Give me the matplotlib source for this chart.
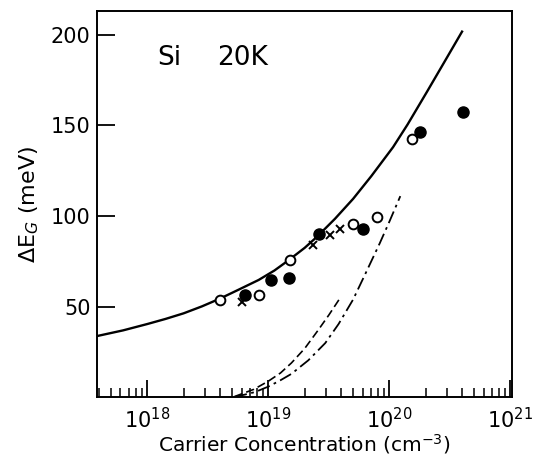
import numpy as np
import matplotlib
matplotlib.use("Agg")
import matplotlib.pyplot as plt
from matplotlib.ticker import LogLocator, FixedLocator, NullFormatter

# solid curve (log10 N, meV)
solid_logN = [17.587, 17.8, 18.0, 18.15, 18.30, 18.45, 18.60, 18.75, 18.92, 19.05, 19.17,
              19.30, 19.40, 19.55, 19.70, 19.85, 20.03, 20.15, 20.31, 20.45, 20.60]
solid_meV = [33.9, 37.0, 40.5, 43.3, 46.4, 50.2, 54.5, 59.3, 64.8, 70.0, 75.8,
             82.5, 88.5, 98.5, 109.5, 122.0, 138.0, 150.5, 168.5, 184.5, 201.7]

# dashed curve
dash_logN = [18.72, 18.80, 18.88, 19.0, 19.10, 19.19, 19.30, 19.41, 19.50, 19.60]
dash_meV = [0.5, 2.5, 4.5, 9.0, 13.5, 19.0, 27.0, 37.0, 45.5, 55.6]

# dash-dot curve
dashdot_logN = [18.72, 18.80, 18.89, 19.0, 19.10, 19.19, 19.33, 19.47, 19.58, 19.70,
                19.80, 19.92, 20.0, 20.09]
dashdot_meV = [0.3, 1.5, 3.0, 6.0, 9.5, 13.0, 20.5, 30.0, 40.5, 54.0,
               68.0, 85.0, 97.0, 111.0]

# measured points
open_logN = [18.60, 18.92, 19.18, 19.70, 19.90, 20.19]
open_meV = [53.7, 56.5, 75.8, 95.6, 99.7, 142.3]
filled_logN = [18.81, 19.02, 19.17, 19.42, 19.78, 20.25, 20.61]
filled_meV = [56.5, 64.8, 65.7, 90.0, 92.9, 146.2, 157.2]
cross_logN = [18.78, 19.37, 19.51, 19.59]
cross_meV = [52.8, 84.1, 89.6, 92.9]

yticks = [50, 100, 150, 200]

plt.rcParams['font.family'] = 'DejaVu Sans'

fig = plt.figure(figsize=(5.33, 4.63), dpi=100)
ax = fig.add_axes([0.1826, 0.1415, 0.9600 - 0.1826, 0.976 - 0.1415])

def lin(v):
    return 10 ** np.array(v)

ax.plot(lin(solid_logN), solid_meV, color='black', lw=1.7, zorder=2)
ax.plot(lin(dash_logN), dash_meV, color='black', lw=1.2, ls=(0, (5, 2.5)), zorder=2)
ax.plot(lin(dashdot_logN), dashdot_meV, color='black', lw=1.3, ls=(0, (7, 2.5, 1.5, 2.5)), zorder=2)

ax.plot(lin(open_logN), open_meV, 'o', ms=7, mfc='white', mec='black', mew=1.4, ls='none', zorder=4)
ax.plot(lin(filled_logN), filled_meV, 'o', ms=8, color='black', ls='none', zorder=5)
ax.plot(lin(cross_logN), cross_meV, 'x', ms=6, color='black', mew=1.4, ls='none', zorder=3)

ax.set_xscale('log')
ax.set_xlim(10 ** 17.587, 10 ** 21.01)
ax.set_ylim(0, 213)

ax.xaxis.set_major_locator(LogLocator(base=10, numticks=10))
ax.xaxis.set_minor_locator(LogLocator(base=10, subs=np.arange(2, 10), numticks=20))
ax.xaxis.set_minor_formatter(NullFormatter())
ax.yaxis.set_major_locator(FixedLocator(yticks))
ax.yaxis.set_minor_locator(FixedLocator([]))

ax.tick_params(axis='x', which='major', direction='in', length=12, width=1.3, labelsize=15, pad=7)
ax.tick_params(axis='x', which='minor', direction='in', length=6.5, width=1.1)
ax.tick_params(axis='y', which='major', direction='in', length=13, width=1.3, labelsize=15, pad=5)
ax.tick_params(top=False, right=False)
for s in ax.spines.values():
    s.set_linewidth(1.4)

ax.set_xlabel('Carrier Concentration (cm$^{-3}$)', fontsize=14.5, labelpad=0)
ax.set_ylabel('$\\Delta$E$_G$ (meV)', fontsize=16, labelpad=7)

ax.text(10 ** 18.08, 187, 'Si', fontsize=19, va='center')
ax.text(10 ** 18.58, 187, '20K', fontsize=19, va='center')

fig.savefig('out.png', dpi=100)
